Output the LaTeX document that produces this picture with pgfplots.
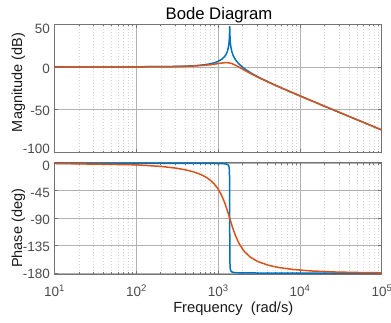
\documentclass[border=0pt]{standalone}
\usepackage{pgfplots}
\pgfplotsset{compat=1.18}
\usepackage{pgfplotstable}
\usepackage{fontspec}
\setmainfont{Liberation Sans}
\definecolor{mblue}{RGB}{0,114,189}
\definecolor{morange}{RGB}{217,83,25}
\newcommand{\tp}[1]{10\raisebox{0.42em}{\fontsize{9.5}{10}\selectfont #1}}

\pgfplotstableread{
w mag ph
10 0 0
100 0.045 -0.017
200 0.182 -0.034
300 0.415 -0.052
400 0.752 -0.072
500 1.205 -0.095
600 1.794 -0.122
700 2.546 -0.155
800 3.502 -0.198
899 4.711 -0.255
1000 6.320 -0.341
1100 8.535 -0.484
1200 11.862 -0.775
1251 14.425 -1.085
1300 18.008 -1.70
1341 23.252 -3.21
1362 28.01 -5.65
1369 30.447 -7.54
1376 33.85 -11.25
1383 39.38 -21.75
1387 44.96 -44.97
1390 47.96 -90
1393 44.93 -134.97
1397 39.33 -158.15
1404 33.76 -168.64
1411 30.315 -172.35
1418 27.83 -174.23
1439 22.932 -176.67
1487 16.779 -178.31
1543 12.686 -178.90
1640 8.126 -179.31
1807 3.223 -179.57
2085 -1.938 -179.72
2502 -7.005 -179.82
3058 -11.687 -179.87
4170 -18.062 -179.91
5560 -23.522 -179.94
8340 -30.881 -179.96
13900 -39.913 -179.98
27800 -52.02 -179.99
55600 -64.077 -180
100000 -74.278 -180
}\blue

\pgfplotstableread{
w mag ph
10 0 -0.25
100 0.037 -2.49
200 0.148 -5.04
300 0.335 -7.74
400 0.60 -10.67
500 0.946 -13.94
600 1.374 -17.68
700 1.885 -22.07
800 2.472 -27.35
899 3.109 -33.73
1000 3.773 -41.77
1100 4.373 -51.73
1200 4.772 -63.76
1251 4.845 -70.62
1300 4.808 -77.36
1341 4.686 -83.23
1390 4.437 -90
1439 4.081 -96.54
1487 3.633 -102.72
1543 3.033 -109.21
1640 1.836 -119.0
1807 -0.352 -131.5
2085 -3.752 -144.25
2502 -7.913 -154.26
3058 -12.172 -161.03
4170 -18.276 -167.32
5560 -23.632 -170.91
8340 -30.927 -174.13
13900 -39.929 -176.53
27800 -52.023 -178.28
55600 -64.078 -179.14
100000 -74.278 -179.52
}\orange

\pgfplotsset{
  every axis/.append style={
  scale only axis, width=327.4pt,
  axis line style={black!55, line width=0.7pt},
  every tick/.style={black!55, line width=0.6pt},
  major tick length=3.5pt, minor tick length=2pt,
  xmajorgrids, xminorgrids, ymajorgrids,
  major grid style={black!30, line width=0.6pt},
  minor grid style={black!16, line width=0.45pt, dash pattern=on 1pt off 2pt},
  tick label style={font=\fontsize{13.5}{15}\selectfont, text=black!70},
  yticklabel style={anchor=base east, inner sep=0pt, xshift=-4.3pt, yshift=-6.3pt},
  /pgf/number format/assume math mode=true,
}}

\begin{document}
\begin{tikzpicture}
\useasboundingbox (0pt,0pt) rectangle (391pt,322pt);
\begin{axis}[xmode=log, xmin=10, xmax=1e5, at={(54.3pt,169.3pt)}, anchor=south west, height=128.4pt,
  ymin=-101, ymax=50, ytick={-100,-50,0,50},
  yticklabels={\raisebox{4.5pt}{-100},-50,0,\raisebox{-2.7pt}{50}},
  xtick={10,100,1000,10000,100000}, xticklabels={}]
\addplot[mblue, line width=1.5pt] table[x=w,y=mag]{\blue};
\addplot[morange, line width=1.5pt] table[x=w,y=mag]{\orange};
\end{axis}
\begin{axis}[xmode=log, xmin=10, xmax=1e5, at={(54.3pt,48pt)}, anchor=south west, height=111.3pt,
  ymin=-181.5, ymax=1, ytick={-180,-135,-90,-45,0},
  yticklabels={\raisebox{1pt}{-180},-135,-90,-45,\raisebox{-1pt}{0}},
  xtick={10,100,1000,10000,100000},
  xticklabels={\tp{1},\tp{2},\tp{3},\tp{4},\tp{5}},
  xticklabel style={anchor=base, inner sep=0pt, yshift=-22.7pt}]
\addplot[mblue, line width=1.5pt] table[x=w,y=ph]{\blue};
\addplot[morange, line width=1.5pt] table[x=w,y=ph]{\orange};
\end{axis}
\node[font=\fontsize{16.7}{18}\selectfont, anchor=base] at (219pt,302.7pt) {Bode Diagram};
\node[font=\fontsize{14.5}{16}\selectfont, rotate=90, anchor=base, text=black!90] at (22pt,239.5pt) {Magnitude (dB)};
\node[font=\fontsize{14.5}{16}\selectfont, rotate=90, anchor=base, text=black!90] at (22pt,93.7pt) {Phase (deg)};
\node[font=\fontsize{14.7}{16}\selectfont, anchor=base, text=black!90] at (233.3pt,9.3pt) {Frequency~~(rad/s)};
\end{tikzpicture}
\end{document}
